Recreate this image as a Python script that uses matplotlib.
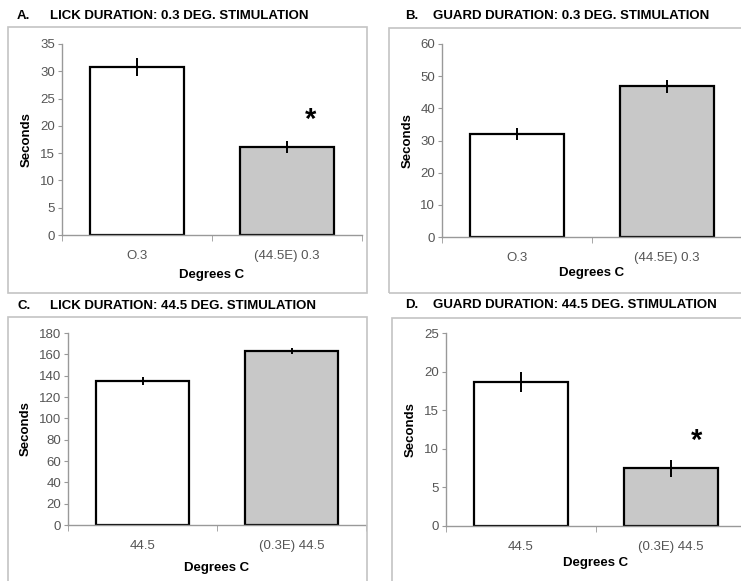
import matplotlib
matplotlib.use("Agg")
import matplotlib.pyplot as plt
from matplotlib.patches import Rectangle

plt.rcParams['font.family'] = ['Liberation Sans', 'DejaVu Sans']

# data
titles = ["LICK DURATION: 0.3 DEG. STIMULATION",
          "GUARD DURATION: 0.3 DEG. STIMULATION",
          "LICK DURATION: 44.5 DEG. STIMULATION",
          "GUARD DURATION: 44.5 DEG. STIMULATION"]
letters = ["A.", "B.", "C.", "D."]
labels_top = ["O.3", "(44.5E) 0.3"]
labels_bottom = ["44.5", "(0.3E) 44.5"]
means_a = [30.8, 16.2]
errs_a = [1.7, 1.1]
means_b = [32.0, 46.8]
errs_b = [1.8, 2.0]
means_c = [135, 163]
errs_c = [3.5, 2.5]
means_d = [18.6, 7.5]
errs_d = [1.3, 1.1]
ymax = [35, 60, 180, 25]
ystep = [5, 10, 20, 5]
star_a = 21.1   # height of the asterisk, panel A
star_d = 11.0   # panel D

W, H = 741.0, 581.0
fig = plt.figure(figsize=(W / 100, H / 100), dpi=100)

def box(l, t, r, b):
    return [l / W, 1 - b / H, (r - l) / W, (b - t) / H]

# frames round each panel
for (l, t, r, b) in [(8, 27, 367, 293), (389, 28, 746, 293),
                     (8, 317, 367, 586), (392, 318, 746, 586)]:
    fig.add_artist(Rectangle((l / W, 1 - b / H), (r - l) / W, (b - t) / H,
                             transform=fig.transFigure, fill=False,
                             edgecolor="#c4c4c4", lw=1.2))

# axes box, data, tick labels, ylabel offset (px), xlabel offset (px)
panels = [
    (box(62, 44, 362, 235), means_a, errs_a, labels_top, -29, 34),
    (box(442, 44, 742, 237), means_b, errs_b, labels_top, -28, 30),
    (box(68, 333, 366, 525), means_c, errs_c, labels_bottom, -36, 37),
    (box(446, 333, 746, 526), means_d, errs_d, labels_bottom, -29, 31),
]
title_pos = [(17, 50, 16), (405, 433, 16), (17, 50, 306), (405, 433, 305)]

axes = []
for i, (rect, means, errs, labs, ylab_dx, xlab_dy) in enumerate(panels):
    ax = fig.add_axes(rect)
    axes.append(ax)
    ax.bar([0, 1], means, width=0.63, color=["white", "#c8c8c8"],
           edgecolor="black", linewidth=1.6, zorder=2)
    ax.errorbar([0, 1], means, yerr=errs, fmt="none", ecolor="black",
                elinewidth=1.4, capsize=0, zorder=3)
    ax.set_xlim(-0.5, 1.5)
    ax.set_ylim(0, ymax[i])
    ax.set_yticks(range(0, ymax[i] + 1, ystep[i]))
    ax.set_xticks([0, 1])
    ax.set_xticklabels(labs)
    ax.set_xticks([-0.5, 0.5, 1.5], minor=True)
    ax.tick_params(axis="x", which="major", length=0, pad=11,
                   labelsize=9.5, labelcolor="#555555")
    ax.tick_params(axis="x", which="minor", length=4, color="#999999",
                   direction="out")
    ax.tick_params(axis="y", length=3, color="#999999", pad=2,
                   labelsize=9.5, labelcolor="#555555")
    for s in ["top", "right"]:
        ax.spines[s].set_visible(False)
    for s in ["left", "bottom"]:
        ax.spines[s].set_color("#999999")
        ax.spines[s].set_linewidth(1.0)
    ax.set_ylabel("Seconds", fontsize=9.5, fontweight="bold")
    ax.set_xlabel("Degrees C", fontsize=9.5, fontweight="bold")
    bw = ax.get_position().width * W
    bh = ax.get_position().height * H
    ax.yaxis.set_label_coords(ylab_dx / bw, 0.5)
    ax.xaxis.set_label_coords(0.5, -xlab_dy / bh)

    lx, tx, ty = title_pos[i]
    fig.text(lx / W, 1 - ty / H, letters[i], fontsize=9.5, fontweight="bold",
             va="center", ha="left")
    fig.text(tx / W, 1 - ty / H, titles[i], fontsize=9.5, fontweight="bold",
             va="center", ha="left")

axes[0].text(1.16, star_a, "*", fontsize=21, fontweight="bold",
             ha="center", va="center")
axes[3].text(1.17, star_d, "*", fontsize=21, fontweight="bold",
             ha="center", va="center")

fig.savefig("out.png", dpi=100)
